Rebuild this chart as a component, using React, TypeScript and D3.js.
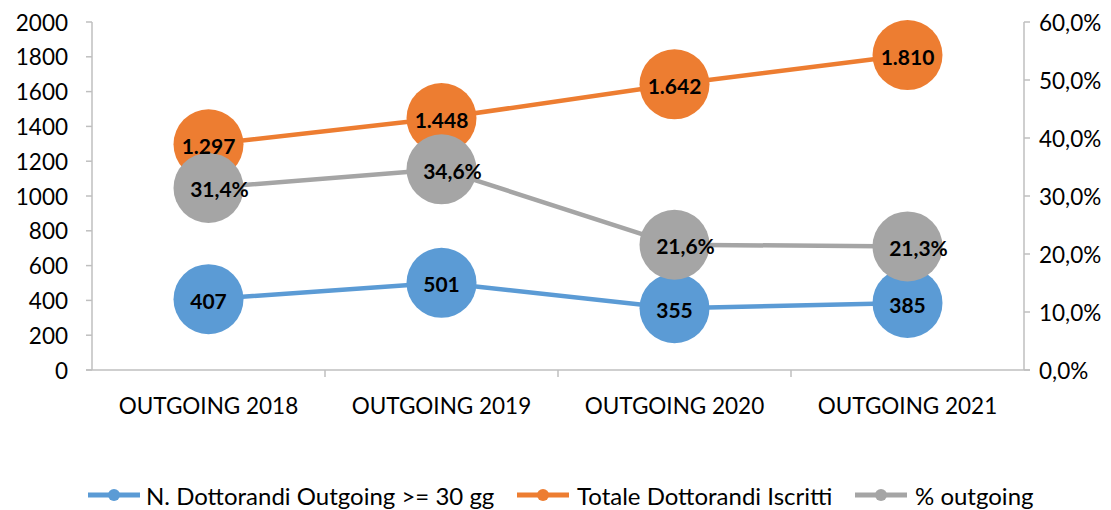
import React from "react";
import * as d3 from "d3";

const categories = ["OUTGOING 2018", "OUTGOING 2019", "OUTGOING 2020", "OUTGOING 2021"];
const outgoing = [407, 501, 355, 385];
const totale = [1297, 1448, 1642, 1810];
const percent = [31.4, 34.6, 21.6, 21.3];
const leftTicks = [0, 200, 400, 600, 800, 1000, 1200, 1400, 1600, 1800, 2000];
const rightTicks = [0, 10, 20, 30, 40, 50, 60];
const seriesNames = ["N. Dottorandi Outgoing >= 30 gg", "Totale Dottorandi Iscritti", "% outgoing"];

const BLUE = "#5B9BD5";
const ORANGE = "#ED7D31";
const GRAY = "#A5A5A5";
const AXIS = "#BFBFBF";
const FONT = "Lato, 'Open Sans', sans-serif";

export default function App() {
  const W = 1111, H = 510;
  const left = 92, right = 1024, top = 22, bottom = 370;
  const x = d3.scaleBand<string>().domain(categories).range([left, right]).padding(0);
  const cx = (c: string) => (x(c) as number) + x.bandwidth() / 2;
  const yL = d3.scaleLinear().domain([0, 2000]).range([bottom, top]);
  const yR = d3.scaleLinear().domain([0, 60]).range([bottom, top]);
  const line = d3.line<[number, number]>().x(d => d[0]).y(d => d[1]);
  const fmtInt = (v: number) => d3.format(",")(v).replace(/,/g, ".");
  const fmtPct = (v: number) => v.toFixed(1).replace(".", ",") + "%";

  const series = [
    { name: seriesNames[0], color: BLUE, pts: outgoing.map((v, i) => [cx(categories[i]), yL(v)] as [number, number]), labels: outgoing.map(fmtInt), dx: 0 },
    { name: seriesNames[1], color: ORANGE, pts: totale.map((v, i) => [cx(categories[i]), yL(v)] as [number, number]), labels: totale.map(fmtInt), dx: 0 },
    { name: seriesNames[2], color: GRAY, pts: percent.map((v, i) => [cx(categories[i]), yR(v)] as [number, number]), labels: percent.map(fmtPct), dx: 11 },
  ];
  const R = 35;

  const legendItems = [
    { name: seriesNames[0], color: BLUE, x: 88, tx: 146 },
    { name: seriesNames[1], color: ORANGE, x: 517, tx: 577 },
    { name: seriesNames[2], color: GRAY, x: 855, tx: 915 },
  ];

  return (
    <svg width={W} height={H} style={{ display: "block", position: "absolute", left: 0, top: 0 }} fontFamily={FONT}>
      <rect width={W} height={H} fill="#fff" />
      <line x1={left} x2={left} y1={top} y2={bottom} stroke={AXIS} strokeWidth={1.5} />
      <line x1={right} x2={right} y1={top} y2={bottom} stroke={AXIS} strokeWidth={1.5} />
      <line x1={left - 6} x2={right + 6} y1={bottom} y2={bottom} stroke={AXIS} strokeWidth={1.5} />
      {leftTicks.map(t => (
        <g key={"l" + t}>
          <line x1={left - 6} x2={left} y1={yL(t)} y2={yL(t)} stroke={AXIS} strokeWidth={1.5} />
          <text x={68} y={yL(t)} textAnchor="end" dominantBaseline="central" fontSize={22.5} fill="#000">{t}</text>
        </g>
      ))}
      {rightTicks.map(t => (
        <g key={"r" + t}>
          <line x1={right} x2={right + 6} y1={yR(t)} y2={yR(t)} stroke={AXIS} strokeWidth={1.5} />
          <text x={1039} y={yR(t)} textAnchor="start" dominantBaseline="central" fontSize={22.5} fill="#000">{t.toFixed(1).replace(".", ",") + "%"}</text>
        </g>
      ))}
      {categories.map((c, i) => (
        <g key={c}>
          {i > 0 && <line x1={x(c) as number} x2={x(c) as number} y1={bottom} y2={bottom + 7} stroke={AXIS} strokeWidth={1.5} />}
          <text x={cx(c)} y={405} textAnchor="middle" dominantBaseline="central" fontSize={22.5} fill="#000">{c}</text>
        </g>
      ))}
      {series.map(s => (
        <g key={s.name}>
          <path d={line(s.pts) as string} fill="none" stroke={s.color} strokeWidth={4.5} strokeLinejoin="round" />
          {s.pts.map((p, i) => <circle key={i} cx={p[0]} cy={p[1]} r={R} fill={s.color} />)}
        </g>
      ))}
      {series.map(s => (
        <g key={s.name + "lab"}>
          {s.pts.map((p, i) => (
            <text key={i} x={p[0] + s.dx} y={p[1] + 1} textAnchor="middle" dominantBaseline="central" fontSize={21} fontWeight="bold" fill="#000">{s.labels[i]}</text>
          ))}
        </g>
      ))}
      {legendItems.map(l => (
        <g key={l.name}>
          <line x1={l.x} x2={l.x + 52} y1={495} y2={495} stroke={l.color} strokeWidth={5} />
          <circle cx={l.x + 26} cy={495} r={6} fill={l.color} />
          <text x={l.tx} y={495} dominantBaseline="central" fontSize={24} fill="#000">{l.name}</text>
        </g>
      ))}
    </svg>
  );
}
